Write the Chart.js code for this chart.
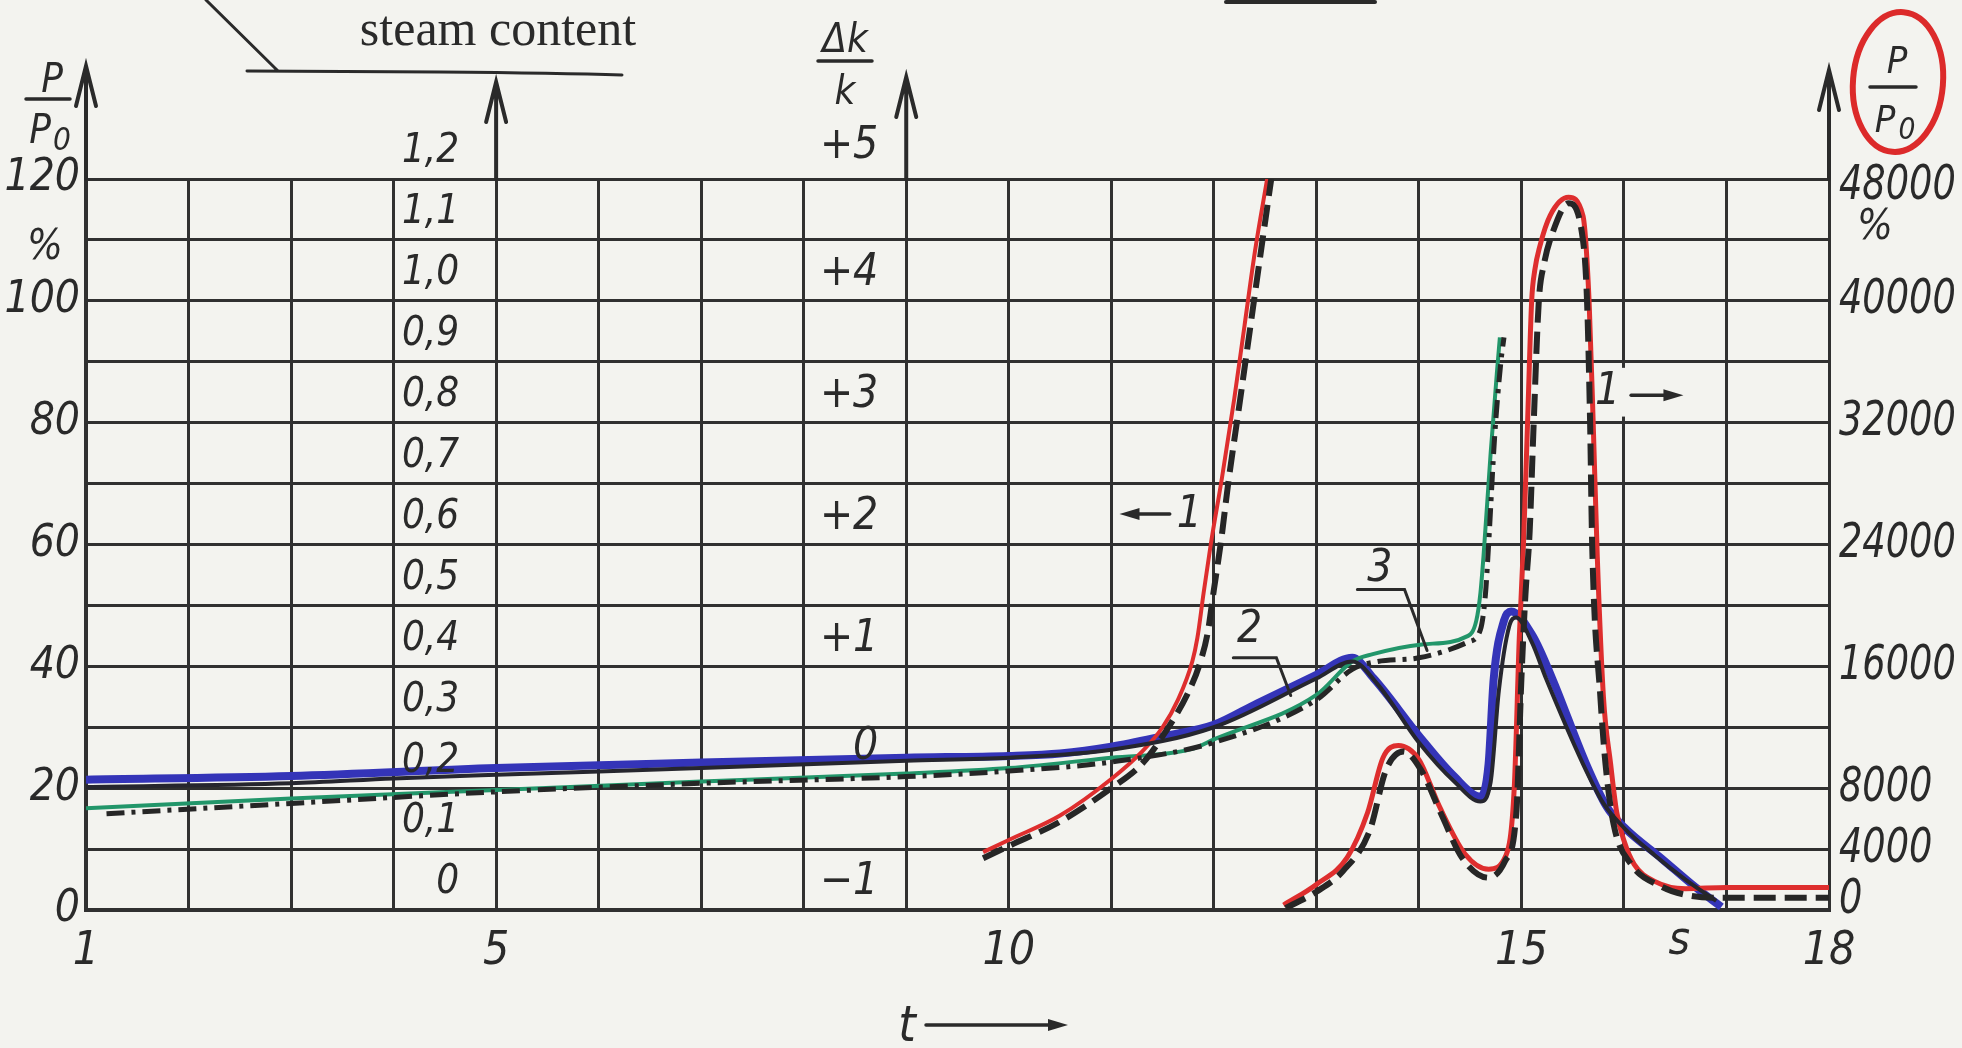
<!DOCTYPE html>
<html>
<head>
<meta charset="utf-8">
<title>P/P0, steam content and reactivity over time</title>
<script src="https://cdn.jsdelivr.net/npm/chart.js@4.4.0/dist/chart.umd.min.js"></script>
<style>
  html, body { margin: 0; padding: 0; background: #f3f3ef; }
  canvas { display: block; }
</style>
</head>
<body>
<canvas id="chart" width="1962" height="1048"></canvas>
<script>
// axis labels
const xLabels = [1, 5, 10, 15, 18];
const rightLabels = [0, 4000, 8000, 16000, 24000, 32000, 40000, 48000];
const steamValues = [0, 0.1, 0.2, 0.3, 0.4, 0.5, 0.6, 0.7, 0.8, 0.9, 1.0, 1.1, 1.2];
const steamLabels = ['0', '0,1', '0,2', '0,3', '0,4', '0,5', '0,6', '0,7', '0,8', '0,9', '1,0', '1,1', '1,2'];
const dkValues = [-1, 0, 1, 2, 3, 4, 5];
const dkLabels = ['\u22121', '0', '+1', '+2', '+3', '+4', '+5'];

// curve 2 (blue, with black trace), left axis %
const blueT = [1, 3, 5, 7, 9, 10, 10.5, 11, 11.5, 12, 12.42, 13, 13.35, 13.56, 14, 14.34, 14.6, 14.68, 14.73, 14.83, 14.9, 15.11, 15.3, 15.63, 15.83, 16, 16.37, 16.7, 16.95];
const blueP = [21.4, 22, 23.3, 24.2, 25, 25.3, 25.7, 26.8, 28.5, 30.4, 33.9, 38.6, 41.4, 38, 28.6, 22, 18.6, 24, 38, 47.5, 49, 45, 38, 24, 17, 13.6, 8.4, 3.7, 0.5];
const black2T = [1, 3, 4, 5, 7, 9, 10, 11, 12, 13, 13.35, 13.6, 14, 14.35, 14.6, 14.7, 14.78, 14.88, 14.95, 15.1, 15.24, 15.6, 15.8, 16, 16.3, 16.6, 16.9];
const black2P = [20.2, 20.8, 21.6, 22.2, 23.3, 24.5, 25, 26.3, 30, 38, 40.8, 37, 27.5, 21, 17.8, 21, 36, 46.5, 48, 44, 38, 24, 17.5, 13.5, 9, 5, 1.5];

// curve 3 (green, with black dash-dot trace), left axis %
const greenT = [1, 3, 5, 7, 9, 10, 11, 11.78, 12, 13, 13.35, 13.55, 14.03, 14.48, 14.56, 14.6, 14.63, 14.7, 14.76, 14.79];
const greenP = [16.7, 18.3, 19.7, 21.1, 22.4, 23.3, 25, 26.4, 28, 35.3, 40.8, 42, 43.6, 45, 47.5, 52, 58, 75, 88, 94];
const dashDotT = [1.2, 3, 5, 7, 9, 10, 11, 12, 13, 13.35, 13.6, 14, 14.48, 14.6, 14.65, 14.68, 14.74, 14.8, 14.83];
const dashDotP = [15.8, 17.5, 19.4, 20.8, 21.9, 22.8, 24.3, 27.5, 34.5, 39.5, 40.8, 41.4, 44, 46, 52, 60, 78, 90, 94];

// curve 1 <- (left axis %)
const red1LT = [9.75, 10, 10.5, 11, 11.3, 11.5, 11.65, 11.79, 11.84, 11.9, 11.97, 12.08, 12.2, 12.3, 12.4, 12.52];
const red1LP = [9.5, 11.5, 15.5, 21.5, 26, 30, 34.5, 40.8, 44.7, 52, 60, 71, 84, 96, 108, 120];
const dash1LT = [9.75, 10, 10.5, 11, 11.3, 11.5, 11.77, 11.87, 11.94, 12.0, 12.07, 12.14, 12.25, 12.35, 12.45, 12.56];
const dash1LP = [8.5, 10.5, 14.5, 20, 24, 28.5, 36.4, 40.8, 45.5, 52.5, 60.5, 70, 83, 95, 107, 120];

// curve 1 -> (right axis %)
const red1RT = [12.68, 13, 13.3, 13.5, 13.65, 13.8, 14, 14.2, 14.45, 14.68, 14.85, 14.93, 14.98, 15.02, 15.06, 15.1, 15.13, 15.18, 15.28, 15.46, 15.6, 15.66, 15.7, 15.74, 15.8, 15.87, 15.93, 16, 16.1, 16.3, 16.6, 17, 18];
const red1RP = [320, 1680, 3440, 6400, 10000, 10800, 9880, 6800, 3680, 2680, 3600, 8000, 18000, 24000, 32000, 40000, 42000, 43600, 45600, 46800, 45600, 40000, 32000, 23200, 14000, 9600, 6400, 4560, 3000, 1880, 1400, 1480, 1480];
const dash1RT = [12.7, 13, 13.26, 13.52, 13.68, 13.85, 14.02, 14.23, 14.42, 14.68, 14.84, 14.95, 15, 15.04, 15.08, 15.12, 15.17, 15.22, 15.3, 15.46, 15.6, 15.64, 15.67, 15.69, 15.77, 15.82, 15.9, 16.07, 16.36, 16.6, 17, 18];
const dash1RP = [120, 1200, 2560, 5200, 9200, 10400, 9200, 6120, 3440, 2120, 3200, 6320, 15200, 20800, 24800, 32000, 40000, 42400, 44400, 46400, 44000, 40000, 32000, 24000, 14000, 9600, 5600, 3000, 1560, 1000, 800, 800];

const INK = '#2a2a2a';
const GRID = '#303030';
const PAPER = '#f3f3ef';
const NUM_FONT = "'DejaVu Sans Condensed', 'DejaVu Sans', sans-serif";

function pts(ts, vs) {
    return ts.map((t, i) => ({ x: t, y: vs[i] }));
}

function line(data, color, width, extra) {
    return Object.assign({
        data: data,
        borderColor: color,
        borderWidth: width,
        pointRadius: 0,
        fill: false,
        cubicInterpolationMode: 'monotone',
        yAxisID: 'y'
    }, extra || {});
}

function text(ctx, s, x, y, size, align, base, family, style, squeeze) {
    ctx.save();
    ctx.font = `${style || 'italic'} ${size}px ${family || NUM_FONT}`;
    ctx.textAlign = align || 'center';
    ctx.textBaseline = base || 'middle';
    ctx.fillStyle = INK;
    const k = squeeze || 1;
    ctx.translate(x, y);
    ctx.scale(k, 1);
    ctx.fillText(s, 0, 0);
    ctx.restore();
}

function openArrowUp(ctx, x, yFrom, yTip) {
    ctx.beginPath();
    ctx.moveTo(x, yFrom);
    ctx.lineTo(x, yTip);
    ctx.moveTo(x - 10, yTip + 40);
    ctx.lineTo(x, yTip);
    ctx.lineTo(x + 10, yTip + 40);
    ctx.stroke();
}

function filledArrow(ctx, x1, x2, y) {
    // shaft from x1 to the tip at x2 (either direction)
    const dir = Math.sign(x2 - x1);
    ctx.beginPath();
    ctx.moveTo(x1, y);
    ctx.lineTo(x2 - dir * 14, y);
    ctx.stroke();
    ctx.beginPath();
    ctx.moveTo(x2, y);
    ctx.lineTo(x2 - dir * 20, y - 6);
    ctx.lineTo(x2 - dir * 20, y + 6);
    ctx.closePath();
    ctx.fill();
}

function fraction(ctx, cx, yTop, yBar, yBot, barHalf, size) {
    text(ctx, 'P', cx + 4, yTop, size);
    ctx.beginPath();
    ctx.moveTo(cx - barHalf, yBar);
    ctx.lineTo(cx + barHalf, yBar);
    ctx.stroke();
    text(ctx, 'P', cx - 8, yBot, size);
    text(ctx, '0', cx + 14, yBot + 9, size * 0.78);
}

const paperPlugin = {
    id: 'paper',
    beforeDraw(chart) {
        const ctx = chart.ctx;
        ctx.save();
        ctx.fillStyle = PAPER;
        ctx.fillRect(0, 0, chart.width, chart.height);
        ctx.restore();
    }
};

const notesPlugin = {
    id: 'notes',
    afterDraw(chart) {
        const ctx = chart.ctx;
        const xs = chart.scales.x;
        const ys = chart.scales.y;
        const yr = chart.scales.yR;
        const area = chart.chartArea;
        const X = t => xs.getPixelForValue(t);
        const Y = p => ys.getPixelForValue(p);
        ctx.save();
        ctx.strokeStyle = INK;
        ctx.fillStyle = INK;
        ctx.lineWidth = 4;
        ctx.lineCap = 'round';

        // arrows on the vertical axes
        openArrowUp(ctx, X(1), area.top, 66);
        openArrowUp(ctx, X(5), area.top, 82);
        openArrowUp(ctx, X(9), area.top, 77);
        openArrowUp(ctx, X(18), area.top, 70);

        // right axis numbers (narrow lettering)
        rightLabels.forEach(v => {
            const off = v === 0 ? -9 : (v === 48000 ? 8 : 0);
            text(ctx, String(v), area.right + 10, yr.getPixelForValue(v) + off, 48, 'left', 'middle', null, 'italic', 0.85);
        });

        // left axis title
        ctx.lineWidth = 3.5;
        fraction(ctx, 48, 82, 99, 133, 22, 40);
        text(ctx, '%', 45, 248, 42);

        // steam content scale at t = 5
        const xSteam = X(5) - 37;
        steamValues.forEach((v, i) => {
            text(ctx, steamLabels[i], xSteam, Y(v * 100) - 27, 40, 'right');
        });

        // reactivity scale at t = 9
        const xDk = X(9) - 28;
        dkValues.forEach((v, i) => {
            const off = v === 0 ? 41 : (v === 5 ? 32 : 27);
            text(ctx, dkLabels[i], xDk, Y((v + 1) * 20) - off, 44, 'right');
        });
        text(ctx, '\u0394k', 845, 42, 40);
        ctx.beginPath();
        ctx.moveTo(818, 61);
        ctx.lineTo(872, 61);
        ctx.stroke();
        text(ctx, 'k', 845, 94, 40);

        // steam content caption with leader
        text(ctx, 'steam content', 498, 45, 50, 'center', 'alphabetic', "'Liberation Serif', serif", 'normal');
        ctx.lineWidth = 3;
        ctx.beginPath();
        ctx.moveTo(206, 0);
        ctx.lineTo(278, 71);
        ctx.moveTo(247, 71);
        ctx.lineTo(440, 72);
        ctx.quadraticCurveTo(560, 73, 622, 75);
        ctx.stroke();
        ctx.lineWidth = 4;
        ctx.beginPath();
        ctx.moveTo(1226, 2);
        ctx.lineTo(1375, 2);
        ctx.stroke();

        // right axis title, circled in red
        ctx.lineWidth = 3.5;
        fraction(ctx, 1893, 63, 87, 122, 23, 38);
        text(ctx, '%', 1875, 228, 42);
        ctx.strokeStyle = '#dc2a2a';
        ctx.lineWidth = 6;
        ctx.beginPath();
        ctx.ellipse(1898, 82, 45, 70, 0.08, 0, Math.PI * 2);
        ctx.stroke();
        ctx.strokeStyle = INK;

        // time axis unit and arrow
        text(ctx, 's', X(16.54), 942, 46);
        text(ctx, 't', 907, 1028, 50);
        ctx.lineWidth = 3.5;
        filledArrow(ctx, 926, 1068, 1025);

        // curve labels
        text(ctx, '1', X(11.76), Y(64.7), 44);
        filledArrow(ctx, X(11.57), X(11.08), Y(65));
        ctx.fillStyle = PAPER;
        ctx.fillRect(X(16) - 4, Y(89), 8, Y(81) - Y(89));
        ctx.fillStyle = INK;
        text(ctx, '1', X(15.84), Y(85), 44);
        filledArrow(ctx, X(16.07), X(16.58), Y(84.5));

        text(ctx, '2', X(12.35), Y(45.9), 44);
        text(ctx, '3', X(13.62), Y(55.9), 44);
        ctx.lineWidth = 3;
        ctx.beginPath();
        ctx.moveTo(X(12.19), Y(41.4));
        ctx.lineTo(X(12.61), Y(41.4));
        ctx.lineTo(X(12.75), Y(35.2));
        ctx.moveTo(X(13.4), Y(52.6));
        ctx.lineTo(X(13.86), Y(52.6));
        ctx.lineTo(X(14.08), Y(42.6));
        ctx.stroke();
        ctx.restore();
    }
};

new Chart(document.getElementById('chart'), {
    type: 'line',
    data: {
        datasets: [
            line(pts(dash1LT, dash1LP), '#262626', 6, { borderDash: [22, 9], order: 0 }),
            line(pts(dash1RT, dash1RP), '#262626', 6, { borderDash: [22, 9], order: 0, yAxisID: 'yR' }),
            line(pts(black2T, black2P), '#26262e', 4, { order: 0 }),
            line(pts(dashDotT, dashDotP), '#262626', 5, { borderDash: [18, 7, 4, 7], order: 0 }),
            line(pts(red1LT, red1LP), '#de2e2e', 4, { order: 1 }),
            line(pts(red1RT, red1RP), '#de2e2e', 5, { order: 1, yAxisID: 'yR' }),
            line(pts(blueT, blueP), '#3434b8', 8, { order: 2 }),
            line(pts(greenT, greenP), '#22966a', 4, { order: 1 })
        ]
    },
    options: {
        responsive: false,
        animation: false,
        layout: { padding: { top: 179, left: 0, right: 0, bottom: 0 } },
        plugins: { legend: { display: false }, tooltip: { enabled: false } },
        scales: {
            x: {
                type: 'linear',
                min: 1,
                max: 18,
                afterFit: s => { s.height = 138; },
                grid: { color: GRID, lineWidth: 3, drawTicks: false },
                border: { color: GRID, width: 4 },
                ticks: {
                    stepSize: 1,
                    autoSkip: false,
                    maxRotation: 0,
                    padding: 14,
                    color: INK,
                    font: { family: NUM_FONT, size: 46, style: 'italic' },
                    callback: v => xLabels.includes(v) ? String(v) : ''
                }
            },
            y: {
                position: 'left',
                min: 0,
                max: 120,
                afterFit: s => { s.width = 86; },
                grid: { color: GRID, lineWidth: 3, drawTicks: false },
                border: { color: GRID, width: 4 },
                ticks: {
                    stepSize: 10,
                    padding: 6,
                    color: INK,
                    font: { family: NUM_FONT, size: 44, style: 'italic' },
                    callback: v => v % 20 === 0 ? String(v) : ''
                }
            },
            yR: {
                position: 'right',
                min: 0,
                max: 48000,
                afterFit: s => { s.width = 133; },
                grid: { display: false, drawTicks: false },
                border: { color: GRID, width: 3 },
                ticks: { stepSize: 4000, display: false }
            }
        }
    },
    plugins: [paperPlugin, notesPlugin]
});
</script>
</body>
</html>
